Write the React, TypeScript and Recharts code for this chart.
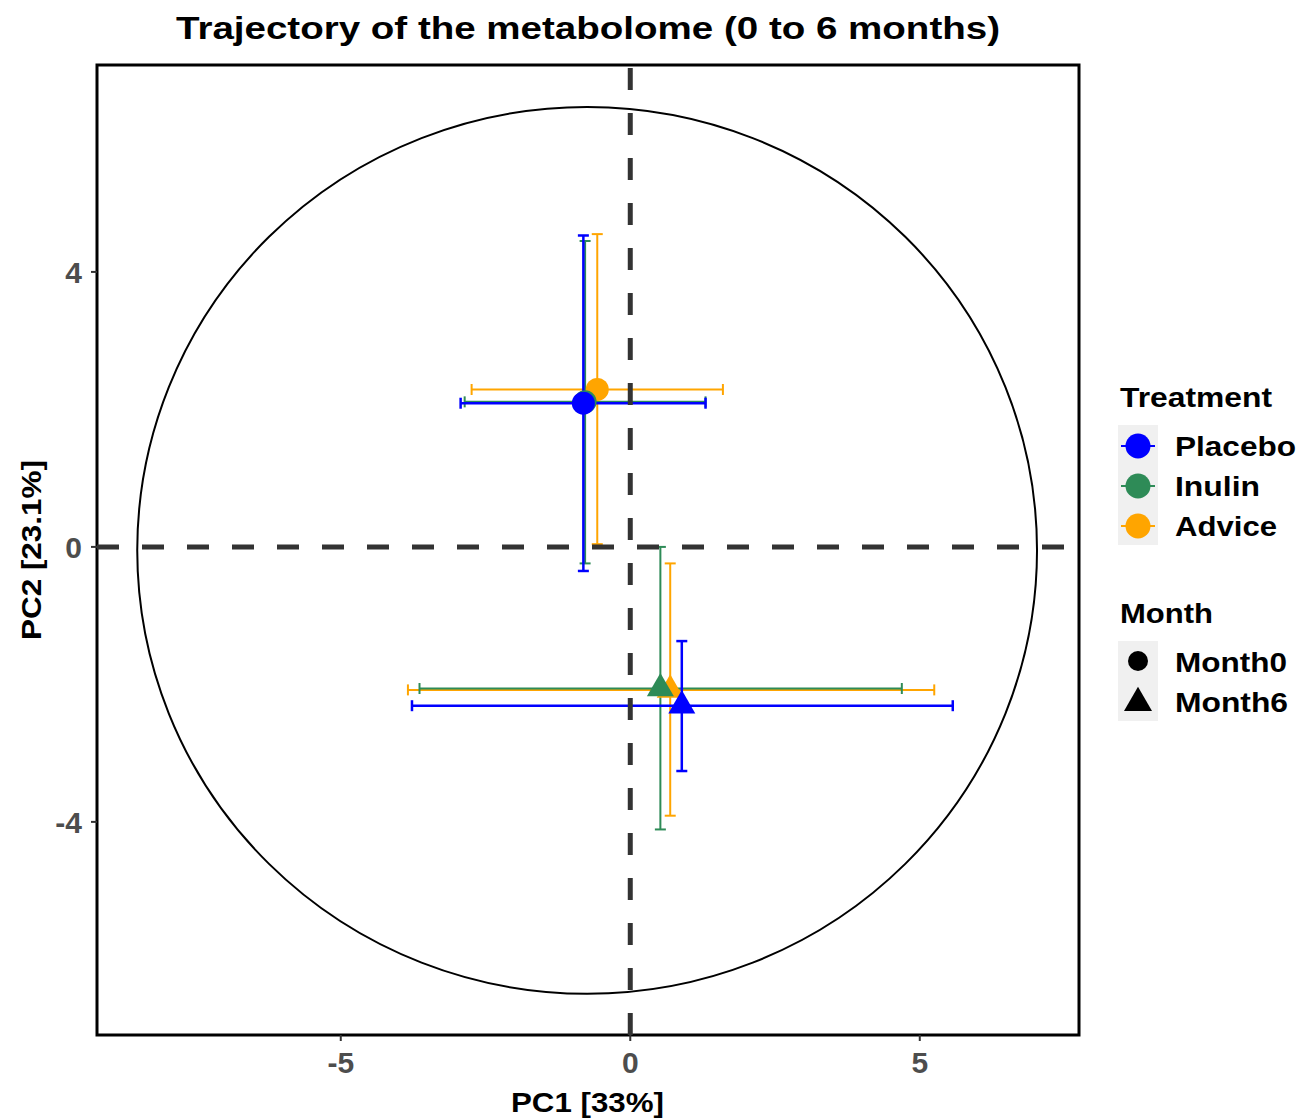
import React from 'react';
import {
  ScatterChart,
  Scatter,
  XAxis,
  YAxis,
  ErrorBar,
  ReferenceLine,
  ReferenceArea,
} from 'recharts';

// groups (draw order: Advice, Inulin, Placebo so Placebo ends up on top)
const treatments = ['Placebo', 'Inulin', 'Advice'];
const treatmentColors = ['#0000FF', '#2E8B57', '#FFA500'];
const months = ['Month0', 'Month6'];

// mean scores per treatment
const pc1Month0 = [-0.81, -0.78, -0.57];
const pc2Month0 = [2.09, 2.11, 2.29];
const pc1Month6 = [0.89, 0.52, 0.69];
const pc2Month6 = [-2.31, -2.06, -2.08];

// error bar limits per treatment
const pc1LowMonth0 = [-2.93, -2.86, -2.74];
const pc1HighMonth0 = [1.30, 1.30, 1.60];
const pc2LowMonth0 = [-0.35, -0.24, 0.04];
const pc2HighMonth0 = [4.53, 4.45, 4.55];
const pc1LowMonth6 = [-3.77, -3.64, -3.84];
const pc1HighMonth6 = [5.57, 4.69, 5.25];
const pc2LowMonth6 = [-3.26, -4.11, -3.91];
const pc2HighMonth6 = [-1.37, 0.0, -0.24];

// axes
const xDomain = [-9.21, 7.75];
const yDomain = [-7.1, 7.01];
const xTicks = [-5, 0, 5];
const yTicks = [-4, 0, 4];

// confidence ellipse (center, radii)
const ellipseCenter = [-0.745, -0.05];
const ellipseRadius = [7.77, 6.45];

const FONT = "'Liberation Sans', Arial, Helvetica, sans-serif";
const drawOrder = [2, 1, 0];

function seriesData(i: number) {
  return [
    {
      x: pc1Month0[i],
      y: pc2Month0[i],
      ex: [pc1Month0[i] - pc1LowMonth0[i], pc1HighMonth0[i] - pc1Month0[i]],
      ey: [pc2Month0[i] - pc2LowMonth0[i], pc2HighMonth0[i] - pc2Month0[i]],
      month: months[0],
    },
    {
      x: pc1Month6[i],
      y: pc2Month6[i],
      ex: [pc1Month6[i] - pc1LowMonth6[i], pc1HighMonth6[i] - pc1Month6[i]],
      ey: [pc2Month6[i] - pc2LowMonth6[i], pc2HighMonth6[i] - pc2Month6[i]],
      month: months[1],
    },
  ];
}

function triangle(cx: number, cy: number, side: number) {
  const h = side * 0.866;
  return `${cx},${cy - (2 * h) / 3} ${cx - side / 2},${cy + h / 3} ${cx + side / 2},${cy + h / 3}`;
}

function makeShape(color: string) {
  return (props: any) => {
    const { cx, cy, payload } = props;
    if (payload.month === 'Month0') {
      return <circle cx={cx} cy={cy} r={11.5} fill={color} />;
    }
    return <polygon points={triangle(cx, cy, 27)} fill={color} />;
  };
}

const emptyShape = () => <g />;

// widths of the legend labels in the original (its font runs wide)
const treatmentLabelWidth = [121, 85, 102];
const monthLabelWidth = [112, 113];

function Overlay() {
  const legendY = [446, 486, 526];
  return (
    <svg
      width={1298}
      height={1120}
      style={{ position: 'absolute', left: 0, top: 0, pointerEvents: 'none' }}
      fontFamily={FONT}
      fontWeight={700}
    >
      <text x={176} y={39} fontSize={32} fill="#000" textLength={824} lengthAdjust="spacingAndGlyphs">
        Trajectory of the metabolome (0 to 6 months)
      </text>
      <text x={511} y={1112} fontSize={28} fill="#000" textLength={153} lengthAdjust="spacingAndGlyphs">
        PC1 [33%]
      </text>
      <text
        transform="translate(41,640) rotate(-90)"
        fontSize={28}
        fill="#000"
        textLength={180}
        lengthAdjust="spacingAndGlyphs"
      >
        PC2 [23.1%]
      </text>

      {/* Treatment legend */}
      <text x={1120} y={407} fontSize={28} fill="#000" textLength={152} lengthAdjust="spacingAndGlyphs">
        Treatment
      </text>
      <rect x={1118} y={425} width={40} height={120} fill="#F0F0F0" />
      {treatments.map((t, i) => (
        <g key={t}>
          <line
            x1={1121}
            x2={1155}
            y1={legendY[i]}
            y2={legendY[i]}
            stroke={treatmentColors[i]}
            strokeWidth={2}
          />
          <circle cx={1138} cy={legendY[i]} r={12.5} fill={treatmentColors[i]} />
          <text
            x={1175}
            y={legendY[i] + 10}
            fontSize={28}
            fill="#000"
            textLength={treatmentLabelWidth[i]}
            lengthAdjust="spacingAndGlyphs"
          >
            {t}
          </text>
        </g>
      ))}

      {/* Month legend */}
      <text x={1120} y={623} fontSize={28} fill="#000" textLength={93} lengthAdjust="spacingAndGlyphs">
        Month
      </text>
      <rect x={1118} y={641} width={40} height={80} fill="#F0F0F0" />
      <circle cx={1138} cy={661} r={10} fill="#000" />
      <polygon points={triangle(1138, 703, 28)} fill="#000" />
      {months.map((m, j) => (
        <text
          key={m}
          x={1175}
          y={672 + j * 40}
          fontSize={28}
          fill="#000"
          textLength={monthLabelWidth[j]}
          lengthAdjust="spacingAndGlyphs"
        >
          {m}
        </text>
      ))}
    </svg>
  );
}

export default function App() {
  const tick = { fill: '#4D4D4D', fontSize: 30, fontWeight: 700, fontFamily: FONT };
  return (
    <div
      style={{
        position: 'absolute',
        left: 0,
        top: 0,
        width: 1298,
        height: 1120,
        background: '#fff',
        fontFamily: FONT,
      }}
    >
      <ScatterChart
        width={1298}
        height={1120}
        margin={{ top: 65, right: 219, bottom: 35, left: 37 }}
      >
        <XAxis
          type="number"
          dataKey="x"
          domain={xDomain}
          ticks={xTicks}
          allowDataOverflow
          tick={tick}
          tickSize={6}
          tickMargin={11}
          axisLine={false}
          tickLine={{ stroke: '#333', strokeWidth: 2 }}
          height={50}
        />
        <YAxis
          type="number"
          dataKey="y"
          domain={yDomain}
          ticks={yTicks}
          allowDataOverflow
          tick={tick}
          tickSize={6}
          tickMargin={9}
          axisLine={false}
          tickLine={{ stroke: '#333', strokeWidth: 2 }}
          width={60}
        />

        <ReferenceArea
          x1={ellipseCenter[0] - ellipseRadius[0]}
          x2={ellipseCenter[0] + ellipseRadius[0]}
          y1={ellipseCenter[1] - ellipseRadius[1]}
          y2={ellipseCenter[1] + ellipseRadius[1]}
          shape={(p: any) => (
            <ellipse
              cx={p.x + p.width / 2}
              cy={p.y + p.height / 2}
              rx={Math.abs(p.width) / 2}
              ry={Math.abs(p.height) / 2}
              fill="none"
              stroke="#000"
              strokeWidth={2}
            />
          )}
        />

        {drawOrder.map((i) => (
          <Scatter
            key={'pt-' + treatments[i]}
            name={treatments[i]}
            data={seriesData(i)}
            shape={makeShape(treatmentColors[i])}
            isAnimationActive={false}
          />
        ))}

        {drawOrder.map((i) => (
          <Scatter
            key={'eb-' + treatments[i]}
            data={seriesData(i)}
            shape={emptyShape}
            isAnimationActive={false}
          >
            <ErrorBar
              dataKey="ex"
              direction="x"
              width={5.5}
              stroke={treatmentColors[i]}
              strokeWidth={i === 0 ? 2.5 : 2}
              isAnimationActive={false}
            />
            <ErrorBar
              dataKey="ey"
              direction="y"
              width={5.5}
              stroke={treatmentColors[i]}
              strokeWidth={i === 0 ? 2.5 : 2}
              isAnimationActive={false}
            />
          </Scatter>
        ))}

        <ReferenceLine x={0} stroke="#333" strokeWidth={5} strokeDasharray="22 23" />
        <ReferenceLine y={0} stroke="#333" strokeWidth={5} strokeDasharray="22 23" />

        {/* panel border */}
        <ReferenceArea
          x1={xDomain[0]}
          x2={xDomain[1]}
          y1={yDomain[0]}
          y2={yDomain[1]}
          fill="none"
          fillOpacity={0}
          stroke="#000"
          strokeWidth={3}
        />
      </ScatterChart>
      <Overlay />
    </div>
  );
}
